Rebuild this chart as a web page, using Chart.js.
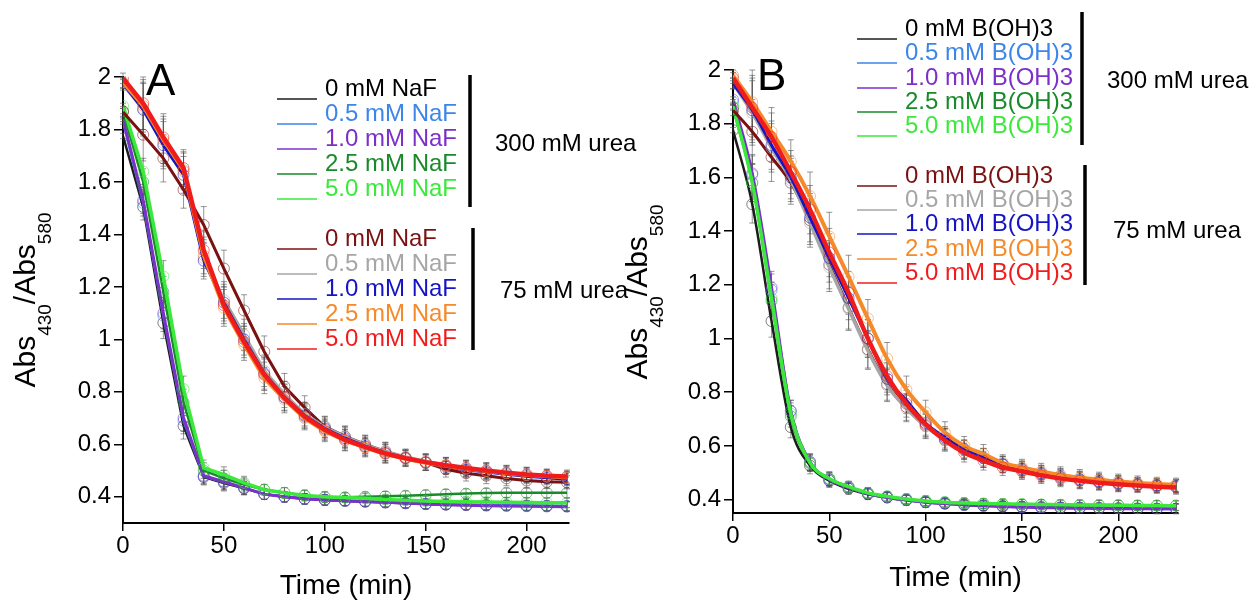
<!DOCTYPE html>
<html>
<head>
<meta charset="utf-8">
<script src="https://cdn.jsdelivr.net/npm/chart.js@4.4.0/dist/chart.umd.min.js"></script>
<style>
  body { margin: 0; background: #fff; width: 1250px; height: 601px; overflow: hidden; position: relative; }
  canvas { position: absolute; top: 0; }
  #chart-a { left: 0; }
  #chart-b { left: 600px; }
</style>
</head>
<body>
<canvas id="chart-a" width="660" height="601"></canvas>
<canvas id="chart-b" width="650" height="601"></canvas>
<script>
const FONT = '"Liberation Sans", Arial, sans-serif'

// time points (min)
const timeA = [0, 10, 20, 30, 40, 50, 60, 70, 80, 90, 100, 110, 120, 130, 140, 150, 160, 170, 180, 190, 200, 210, 220]
const timeB = [0, 10, 20, 30, 40, 50, 60, 70, 80, 90, 100, 110, 120, 130, 140, 150, 160, 170, 180, 190, 200, 210, 220, 230]

const xTicks = [0, 50, 100, 150, 200]
const yTicks = [0.4, 0.6, 0.8, 1, 1.2, 1.4, 1.6, 1.8, 2]

const labelsA = ['0 mM NaF', '0.5 mM NaF', '1.0 mM NaF', '2.5 mM NaF', '5.0 mM NaF',
                 '0 mM NaF', '0.5 mM NaF', '1.0 mM NaF', '2.5 mM NaF', '5.0 mM NaF']
const labelsB = ['0 mM B(OH)3', '0.5 mM B(OH)3', '1.0 mM B(OH)3', '2.5 mM B(OH)3', '5.0 mM B(OH)3',
                 '0 mM B(OH)3', '0.5 mM B(OH)3', '1.0 mM B(OH)3', '2.5 mM B(OH)3', '5.0 mM B(OH)3']
const groupLabels = ['300 mM urea', '75 mM urea']

const colors = ['#1c1c1c', '#3d85e8', '#7b30c8', '#198a2a', '#3be83b',
                '#7a1212', '#a6a6a6', '#1414c4', '#f58a2a', '#f01c1c']
const textColors = ['#000000', '#3d85e8', '#7b30c8', '#198a2a', '#3be83b',
                    '#7a1212', '#a6a6a6', '#1414c4', '#f58a2a', '#f01c1c']
const widths = [2.5, 2.5, 3, 2.5, 3.5, 3, 3.5, 3, 4, 4.5]

// Panel A: NaF
const a300_0  = [1.775, 1.505, 1.063, 0.67, 0.475, 0.452, 0.432, 0.41, 0.40, 0.392, 0.388, 0.384, 0.381, 0.378, 0.375, 0.372, 0.37, 0.369, 0.368, 0.367, 0.366, 0.365, 0.364]
const a300_05 = [1.83, 1.52, 1.09, 0.69, 0.478, 0.456, 0.434, 0.41, 0.40, 0.392, 0.388, 0.385, 0.382, 0.379, 0.376, 0.373, 0.371, 0.37, 0.369, 0.368, 0.367, 0.366, 0.365]
const a300_1  = [1.84, 1.53, 1.10, 0.70, 0.48, 0.457, 0.434, 0.41, 0.40, 0.392, 0.388, 0.385, 0.382, 0.379, 0.376, 0.372, 0.37, 0.368, 0.366, 0.365, 0.364, 0.363, 0.362]
const a300_25 = [1.87, 1.60, 1.18, 0.76, 0.50, 0.47, 0.447, 0.427, 0.415, 0.405, 0.398, 0.398, 0.40, 0.402, 0.404, 0.407, 0.41, 0.412, 0.414, 0.415, 0.415, 0.415, 0.415]
const a300_5  = [1.89, 1.64, 1.24, 0.81, 0.51, 0.484, 0.453, 0.427, 0.415, 0.405, 0.40, 0.397, 0.394, 0.39, 0.387, 0.384, 0.382, 0.381, 0.38, 0.379, 0.378, 0.377, 0.377]
const a75_0   = [1.867, 1.78, 1.69, 1.57, 1.436, 1.27, 1.11, 0.953, 0.82, 0.74, 0.667, 0.63, 0.60, 0.573, 0.55, 0.53, 0.505, 0.49, 0.48, 0.47, 0.462, 0.457, 0.455]
const a75_05  = [1.97, 1.88, 1.75, 1.64, 1.31, 1.15, 1.017, 0.88, 0.79, 0.715, 0.665, 0.628, 0.598, 0.572, 0.552, 0.535, 0.52, 0.508, 0.498, 0.49, 0.482, 0.476, 0.47]
const a75_1   = [1.976, 1.875, 1.74, 1.627, 1.30, 1.14, 1.0, 0.87, 0.78, 0.71, 0.66, 0.623, 0.593, 0.567, 0.547, 0.53, 0.515, 0.503, 0.494, 0.486, 0.478, 0.472, 0.467]
const a75_25  = [1.98, 1.89, 1.76, 1.645, 1.32, 1.12, 0.98, 0.853, 0.77, 0.70, 0.65, 0.615, 0.587, 0.563, 0.545, 0.53, 0.518, 0.507, 0.498, 0.49, 0.483, 0.478, 0.473]
const a75_5   = [1.995, 1.90, 1.77, 1.653, 1.34, 1.13, 0.99, 0.865, 0.777, 0.705, 0.655, 0.617, 0.59, 0.565, 0.547, 0.532, 0.52, 0.51, 0.5, 0.492, 0.485, 0.48, 0.477]
const errA300 = [0.01, 0.05, 0.06, 0.05, 0.03, 0.03, 0.025, 0.02, 0.02, 0.02, 0.02, 0.018, 0.018, 0.018, 0.018, 0.018, 0.018, 0.018, 0.018, 0.018, 0.018, 0.018, 0.018]
const errA75  = [0.02, 0.10, 0.09, 0.07, 0.07, 0.07, 0.06, 0.06, 0.05, 0.045, 0.04, 0.04, 0.035, 0.035, 0.03, 0.03, 0.03, 0.03, 0.03, 0.028, 0.028, 0.026, 0.025]

// Panel B: B(OH)3
const b300_0  = [1.776, 1.50, 1.065, 0.67, 0.526, 0.47, 0.44, 0.42, 0.408, 0.398, 0.39, 0.385, 0.381, 0.378, 0.376, 0.374, 0.372, 0.371, 0.37, 0.369, 0.368, 0.367, 0.366, 0.366]
const b300_05 = [1.88, 1.61, 1.18, 0.73, 0.54, 0.475, 0.445, 0.422, 0.408, 0.398, 0.39, 0.385, 0.38, 0.377, 0.374, 0.372, 0.37, 0.369, 0.368, 0.367, 0.366, 0.366, 0.365, 0.365]
const b300_1  = [1.89, 1.615, 1.19, 0.73, 0.54, 0.475, 0.445, 0.422, 0.408, 0.398, 0.39, 0.385, 0.38, 0.377, 0.374, 0.372, 0.37, 0.369, 0.368, 0.367, 0.366, 0.366, 0.366, 0.366]
const b300_25 = [1.86, 1.58, 1.14, 0.71, 0.535, 0.478, 0.448, 0.425, 0.412, 0.402, 0.395, 0.39, 0.387, 0.385, 0.383, 0.382, 0.381, 0.38, 0.38, 0.379, 0.379, 0.378, 0.378, 0.378]
const b300_5  = [1.865, 1.58, 1.15, 0.72, 0.537, 0.478, 0.448, 0.425, 0.412, 0.402, 0.395, 0.39, 0.387, 0.385, 0.384, 0.383, 0.382, 0.381, 0.38, 0.38, 0.379, 0.378, 0.378, 0.377]
const b75_0   = [1.85, 1.77, 1.675, 1.58, 1.44, 1.275, 1.115, 0.96, 0.83, 0.745, 0.675, 0.625, 0.585, 0.555, 0.53, 0.51, 0.495, 0.482, 0.472, 0.465, 0.459, 0.455, 0.452, 0.45]
const b75_05  = [1.95, 1.84, 1.71, 1.59, 1.43, 1.265, 1.11, 0.955, 0.825, 0.74, 0.672, 0.625, 0.585, 0.555, 0.53, 0.512, 0.497, 0.484, 0.474, 0.467, 0.461, 0.456, 0.452, 0.45]
const b75_1   = [1.95, 1.85, 1.72, 1.60, 1.45, 1.30, 1.15, 1.0, 0.85, 0.77, 0.685, 0.632, 0.588, 0.556, 0.532, 0.514, 0.498, 0.486, 0.476, 0.468, 0.462, 0.457, 0.453, 0.45]
const b75_25  = [1.98, 1.88, 1.77, 1.66, 1.53, 1.38, 1.23, 1.075, 0.925, 0.81, 0.725, 0.65, 0.60, 0.57, 0.537, 0.52, 0.505, 0.492, 0.482, 0.474, 0.467, 0.462, 0.458, 0.455]
const b75_5   = [1.97, 1.86, 1.75, 1.62, 1.48, 1.32, 1.17, 1.0, 0.86, 0.757, 0.68, 0.62, 0.575, 0.545, 0.52, 0.505, 0.49, 0.478, 0.47, 0.463, 0.457, 0.452, 0.448, 0.445]
const errB300 = [0.01, 0.07, 0.06, 0.04, 0.03, 0.025, 0.02, 0.02, 0.018, 0.018, 0.018, 0.018, 0.018, 0.018, 0.018, 0.018, 0.018, 0.018, 0.018, 0.018, 0.018, 0.018, 0.018, 0.018]
const errB75  = [0.02, 0.12, 0.09, 0.08, 0.09, 0.09, 0.08, 0.07, 0.06, 0.05, 0.045, 0.04, 0.035, 0.035, 0.03, 0.03, 0.03, 0.03, 0.03, 0.028, 0.028, 0.026, 0.025, 0.025]

function alpha(hex, a) {
    const n = parseInt(hex.slice(1), 16)
    return `rgba(${n >> 16}, ${(n >> 8) & 255}, ${n & 255}, ${a})`
}

function makeDatasets(times, series, labels, err300, err75, smooth) {
    return series.map((vals, i) => ({
        label: labels[i],
        data: times.map((t, j) => ({ x: t, y: vals[j] })),
        borderColor: colors[i],
        borderWidth: widths[i],
        pointRadius: 5.5,
        pointBorderWidth: 1,
        pointBackgroundColor: 'rgba(0,0,0,0)',
        pointBorderColor: alpha(colors[i], 0.55),
        tension: smooth ? 0.3 : 0,
        cubicInterpolationMode: smooth ? 'monotone' : 'default',
        fill: false,
        order: 10 - i,
        err: i < 5 ? err300 : err75
    }))
}

// error bars, drawn under the lines
const errorBars = {
    id: 'errorBars',
    beforeDatasetsDraw(chart) {
        const ctx = chart.ctx
        const xs = chart.scales.x, ys = chart.scales.y
        ctx.save()
        ctx.strokeStyle = 'rgba(80,80,80,0.6)'
        ctx.lineWidth = 1
        chart.data.datasets.forEach(ds => {
            ds.data.forEach((p, j) => {
                const e = ds.err[j]
                const px = xs.getPixelForValue(p.x)
                const top = ys.getPixelForValue(p.y + e)
                const bot = ys.getPixelForValue(p.y - e)
                ctx.beginPath()
                ctx.moveTo(px, top); ctx.lineTo(px, bot)
                ctx.moveTo(px - 3, top); ctx.lineTo(px + 3, top)
                ctx.moveTo(px - 3, bot); ctx.lineTo(px + 3, bot)
                ctx.stroke()
            })
        })
        ctx.restore()
    }
}

// panel letter, axis titles and the grouped legend
const decor = {
    id: 'decor',
    afterDraw(chart, args, o) {
        const ctx = chart.ctx
        const a = chart.chartArea
        ctx.save()
        ctx.fillStyle = '#000'
        ctx.textBaseline = 'alphabetic'

        ctx.font = '44px ' + FONT
        ctx.fillText(o.letter, o.letterX, o.letterY)

        ctx.font = '28px ' + FONT
        ctx.textAlign = 'center'
        ctx.fillText('Time (min)', (a.left + a.right) / 2, o.xTitleY)

        // Abs430/Abs580, rotated
        const parts = [['Abs', 30, 0], ['430', 19, 16], ['/Abs', 30, 0], ['580', 19, 16]]
        let total = 0
        parts.forEach(p => { ctx.font = p[1] + 'px ' + FONT; total += ctx.measureText(p[0]).width })
        ctx.translate(o.yTitleX, o.yTitleY)
        ctx.rotate(-Math.PI / 2)
        ctx.textAlign = 'left'
        let u = -total / 2
        parts.forEach(p => {
            ctx.font = p[1] + 'px ' + FONT
            ctx.fillText(p[0], u, p[2])
            u += ctx.measureText(p[0]).width
        })
        ctx.setTransform(1, 0, 0, 1, 0, 0)

        // legend rows
        ctx.font = o.legendFont + 'px ' + FONT
        o.labels.forEach((lab, i) => {
            const y = o.rows[i]
            ctx.strokeStyle = colors[i]
            ctx.lineWidth = 1.5
            ctx.beginPath()
            ctx.moveTo(o.lineX0, y + 3)
            ctx.lineTo(o.lineX1, y + 3)
            ctx.stroke()
            ctx.fillStyle = textColors[i]
            ctx.fillText(lab, o.textX, y)
        })

        // group brackets and labels
        ctx.fillStyle = '#000'
        ctx.strokeStyle = '#000'
        ctx.lineWidth = 3.5
        o.bars.forEach((b, k) => {
            ctx.beginPath()
            ctx.moveTo(b[0], b[1])
            ctx.lineTo(b[0], b[2])
            ctx.stroke()
            ctx.font = '24px ' + FONT
            ctx.fillText(groupLabels[k], o.groupX[k], o.groupY[k])
        })
        ctx.restore()
    }
}

function makeOptions(xMax, yMin, pad, yWidth, xHeight, deco) {
    return {
        responsive: false,
        animation: false,
        devicePixelRatio: 1,
        layout: { padding: pad },
        plugins: {
            legend: { display: false },
            tooltip: { enabled: false },
            decor: deco
        },
        scales: {
            x: {
                type: 'linear',
                min: 0,
                max: xMax,
                afterBuildTicks: s => { s.ticks = xTicks.map(v => ({ value: v })) },
                afterFit: s => { s.height = xHeight },
                grid: { drawOnChartArea: false, drawTicks: true, tickLength: 8, color: '#000', lineWidth: 1.5 },
                border: { color: '#000', width: 2 },
                ticks: { color: '#000', padding: 1, maxRotation: 0, font: { family: FONT, size: 24 } }
            },
            y: {
                type: 'linear',
                min: yMin,
                max: 2.0,
                afterBuildTicks: s => { s.ticks = yTicks.map(v => ({ value: v })) },
                afterFit: s => { s.width = yWidth },
                grid: { drawOnChartArea: false, drawTicks: true, tickLength: 9, color: '#000', lineWidth: 1.5 },
                border: { color: '#000', width: 2 },
                ticks: { color: '#000', padding: 3, font: { family: FONT, size: 24 }, callback: v => String(+v.toFixed(1)) }
            }
        }
    }
}

const chartA = new Chart(document.getElementById('chart-a').getContext('2d'), {
    type: 'line',
    data: {
        datasets: makeDatasets(timeA,
            [a300_0, a300_05, a300_1, a300_25, a300_5, a75_0, a75_05, a75_1, a75_25, a75_5],
            labelsA, errA300, errA75, false)
    },
    options: makeOptions(221, 0.3, { left: 0, right: 91, top: 77, bottom: 0 }, 123, 78, {
        letter: 'A', letterX: 146, letterY: 95,
        xTitleY: 594,
        yTitleX: 35, yTitleY: 300,
        legendFont: 24,
        labels: labelsA,
        rows: [96, 121, 146, 171, 196, 246, 271, 296, 321, 346],
        lineX0: 277, lineX1: 317, textX: 325,
        bars: [[470, 75, 207], [473, 228, 350]],
        groupX: [495, 500], groupY: [151, 298]
    }),
    plugins: [errorBars, decor]
})

const chartB = new Chart(document.getElementById('chart-b').getContext('2d'), {
    type: 'line',
    data: {
        datasets: makeDatasets(timeB,
            [b300_0, b300_05, b300_1, b300_25, b300_5, b75_0, b75_05, b75_1, b75_25, b75_5],
            labelsB, errB300, errB75, true)
    },
    options: makeOptions(231, 0.35, { left: 0, right: 72, top: 70, bottom: 0 }, 133, 88, {
        letter: 'B', letterX: 157, letterY: 90,
        xTitleY: 586,
        yTitleX: 47, yTitleY: 292,
        legendFont: 24,
        labels: labelsB,
        rows: [36, 60, 85, 109, 133, 183, 207, 231, 256, 280],
        lineX0: 257, lineX1: 297, textX: 305,
        bars: [[482, 12, 145], [485, 165, 285]],
        groupX: [507, 513], groupY: [88, 238]
    }),
    plugins: [errorBars, decor]
})
</script>
</body>
</html>
